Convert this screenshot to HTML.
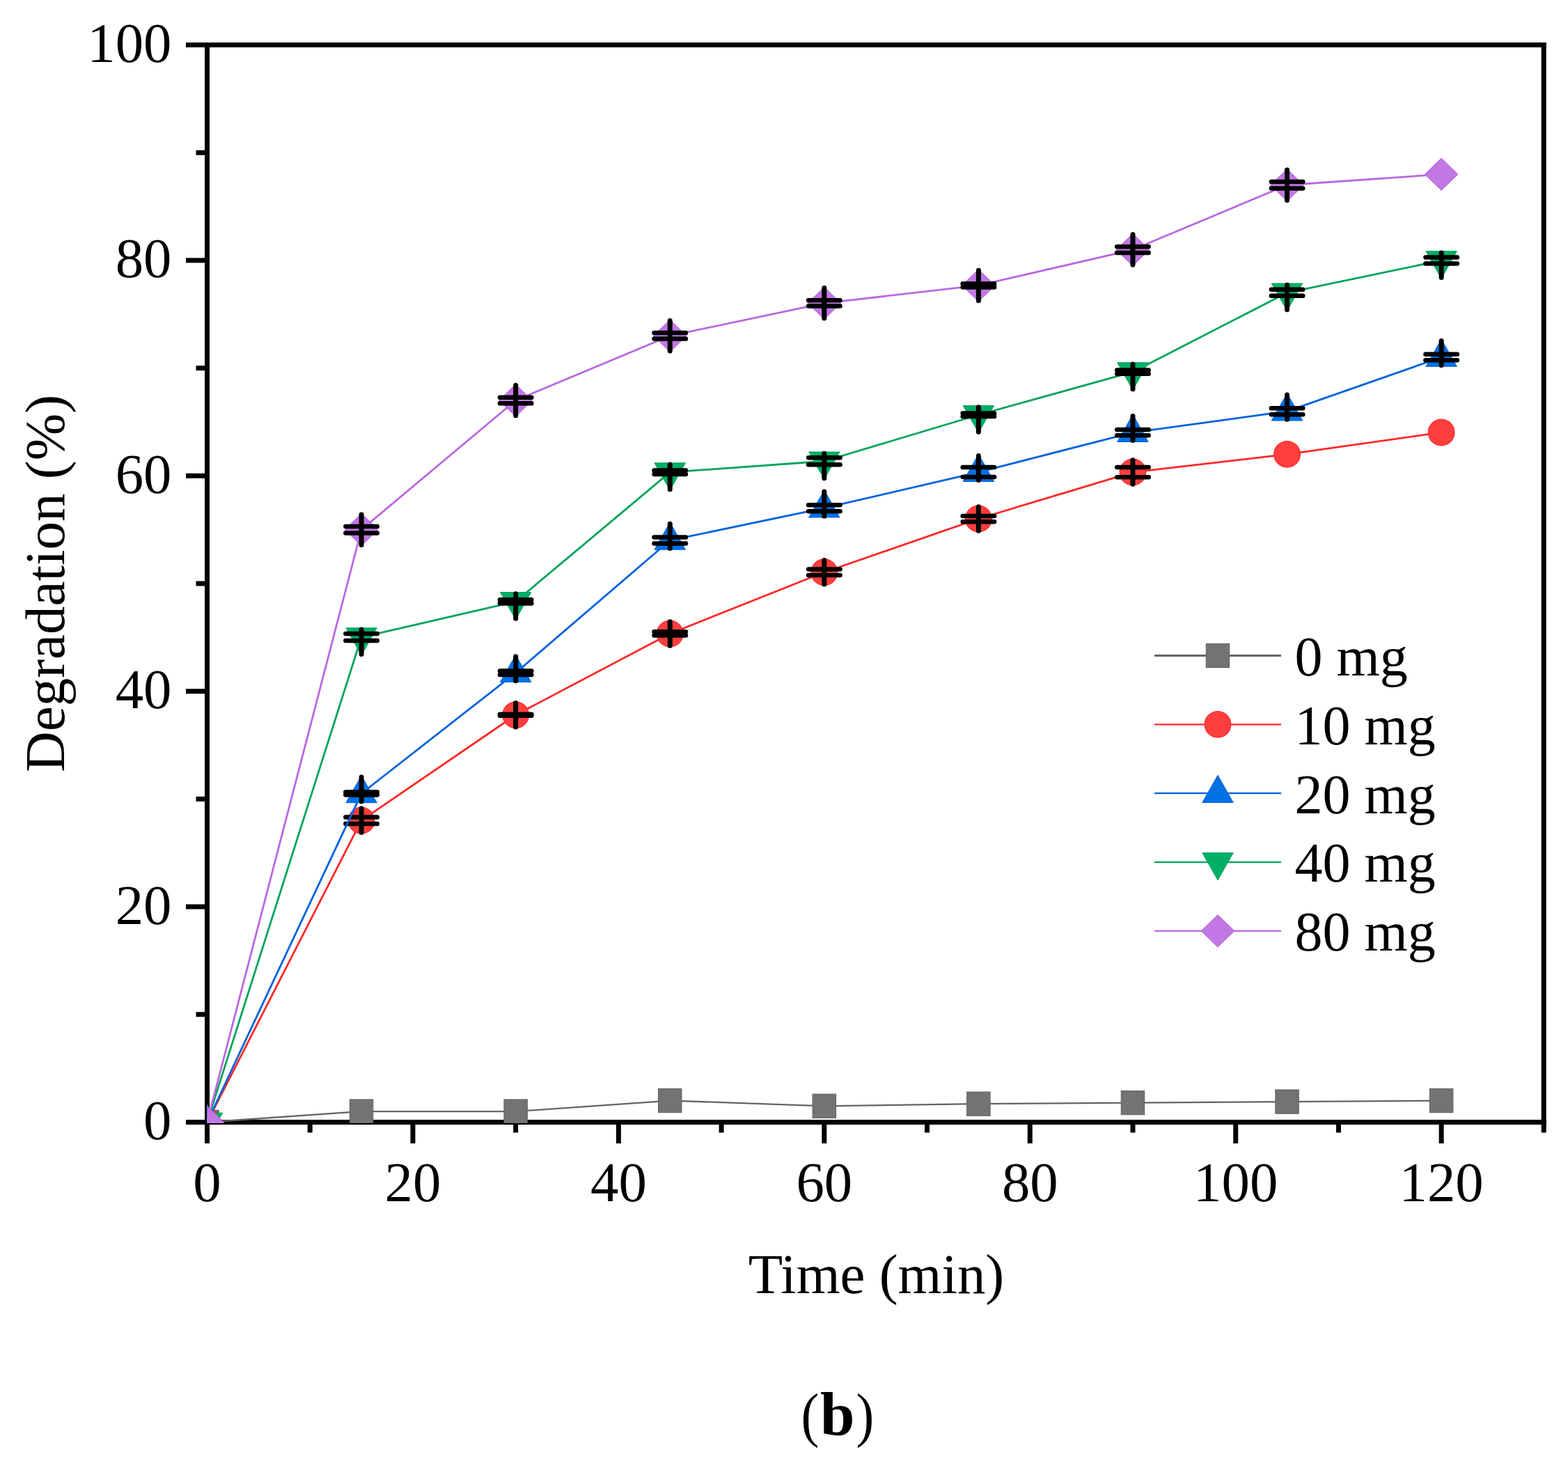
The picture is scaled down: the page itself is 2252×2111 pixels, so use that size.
<!DOCTYPE html><html><head><meta charset="utf-8"><title>Degradation vs Time</title>
<style>html,body{margin:0;padding:0;background:#fff;}svg{display:block;}text{font-family:"Liberation Serif","Times New Roman",serif;fill:#000;}</style></head><body>
<svg width="2252" height="2111" viewBox="0 0 2252 2111">
<rect width="2252" height="2111" fill="#fff"/>
<defs><clipPath id="pc"><rect x="297.5" y="60" width="1921" height="1553"/></clipPath></defs>
<g stroke="#000" stroke-width="7" fill="none" stroke-linecap="butt">
<line x1="267.0" y1="64.5" x2="2220.7" y2="64.5"/>
<line x1="267.0" y1="1611.5" x2="2220.7" y2="1611.5"/>
<line x1="297.5" y1="61.0" x2="297.5" y2="1642.0"/>
<line x1="2217.2" y1="61.0" x2="2217.2" y2="1626.5"/>
<line x1="281.5" y1="1456.80" x2="297.5" y2="1456.80"/>
<line x1="267.0" y1="1302.10" x2="297.5" y2="1302.10"/>
<line x1="281.5" y1="1147.40" x2="297.5" y2="1147.40"/>
<line x1="267.0" y1="992.70" x2="297.5" y2="992.70"/>
<line x1="281.5" y1="838.00" x2="297.5" y2="838.00"/>
<line x1="267.0" y1="683.30" x2="297.5" y2="683.30"/>
<line x1="281.5" y1="528.60" x2="297.5" y2="528.60"/>
<line x1="267.0" y1="373.90" x2="297.5" y2="373.90"/>
<line x1="281.5" y1="219.20" x2="297.5" y2="219.20"/>
<line x1="445.22" y1="1611.5" x2="445.22" y2="1626.5"/>
<line x1="592.94" y1="1611.5" x2="592.94" y2="1642.0"/>
<line x1="740.66" y1="1611.5" x2="740.66" y2="1626.5"/>
<line x1="888.38" y1="1611.5" x2="888.38" y2="1642.0"/>
<line x1="1036.10" y1="1611.5" x2="1036.10" y2="1626.5"/>
<line x1="1183.82" y1="1611.5" x2="1183.82" y2="1642.0"/>
<line x1="1331.54" y1="1611.5" x2="1331.54" y2="1626.5"/>
<line x1="1479.26" y1="1611.5" x2="1479.26" y2="1642.0"/>
<line x1="1626.98" y1="1611.5" x2="1626.98" y2="1626.5"/>
<line x1="1774.70" y1="1611.5" x2="1774.70" y2="1642.0"/>
<line x1="1922.42" y1="1611.5" x2="1922.42" y2="1626.5"/>
<line x1="2070.14" y1="1611.5" x2="2070.14" y2="1642.0"/>
</g>
<g font-size="80.8">
<text x="246.5" y="1635.9" text-anchor="end">0</text>
<text x="246.5" y="1326.5" text-anchor="end">20</text>
<text x="246.5" y="1017.1" text-anchor="end">40</text>
<text x="246.5" y="707.7" text-anchor="end">60</text>
<text x="246.5" y="398.3" text-anchor="end">80</text>
<text x="246.5" y="88.9" text-anchor="end">100</text>
<text x="297.5" y="1725.2" text-anchor="middle">0</text>
<text x="592.9" y="1725.2" text-anchor="middle">20</text>
<text x="888.4" y="1725.2" text-anchor="middle">40</text>
<text x="1183.8" y="1725.2" text-anchor="middle">60</text>
<text x="1479.3" y="1725.2" text-anchor="middle">80</text>
<text x="1774.7" y="1725.2" text-anchor="middle">100</text>
<text x="2070.1" y="1725.2" text-anchor="middle">120</text>
</g>
<text x="1074.7" y="1856.5" font-size="80.85">Time (min)</text>
<text transform="translate(91.5,1108.8) rotate(-90)" font-size="81">Degradation (%)</text>
<g clip-path="url(#pc)">
<polyline points="297.50,1611.50 519.08,1596.03 740.66,1596.03 962.24,1580.56 1183.82,1588.30 1405.40,1585.20 1626.98,1583.65 1848.56,1582.11 2070.14,1580.56" fill="none" stroke="#646464" stroke-width="2.3" stroke-linejoin="round"/>
<rect x="280.80" y="1594.40" width="33.4" height="34.2" fill="#737373" stroke="#646464" stroke-width="1.1"/>
<rect x="502.38" y="1578.93" width="33.4" height="34.2" fill="#737373" stroke="#646464" stroke-width="1.1"/>
<rect x="723.96" y="1578.93" width="33.4" height="34.2" fill="#737373" stroke="#646464" stroke-width="1.1"/>
<rect x="945.54" y="1563.46" width="33.4" height="34.2" fill="#737373" stroke="#646464" stroke-width="1.1"/>
<rect x="1167.12" y="1571.20" width="33.4" height="34.2" fill="#737373" stroke="#646464" stroke-width="1.1"/>
<rect x="1388.70" y="1568.10" width="33.4" height="34.2" fill="#737373" stroke="#646464" stroke-width="1.1"/>
<rect x="1610.28" y="1566.55" width="33.4" height="34.2" fill="#737373" stroke="#646464" stroke-width="1.1"/>
<rect x="1831.86" y="1565.01" width="33.4" height="34.2" fill="#737373" stroke="#646464" stroke-width="1.1"/>
<rect x="2053.44" y="1563.46" width="33.4" height="34.2" fill="#737373" stroke="#646464" stroke-width="1.1"/>
<polyline points="297.50,1611.50 519.08,1178.19 740.66,1026.73 962.24,909.94 1183.82,821.76 1405.40,745.03 1626.98,678.04 1848.56,652.36 2070.14,620.96" fill="none" stroke="#FF2828" stroke-width="2.8" stroke-linejoin="round"/>
<circle cx="297.50" cy="1611.50" r="18.9" fill="#FF3E3E" stroke="#FF2828" stroke-width="1.1"/>
<circle cx="519.08" cy="1178.19" r="18.9" fill="#FF3E3E" stroke="#FF2828" stroke-width="1.1"/>
<circle cx="740.66" cy="1026.73" r="18.9" fill="#FF3E3E" stroke="#FF2828" stroke-width="1.1"/>
<circle cx="962.24" cy="909.94" r="18.9" fill="#FF3E3E" stroke="#FF2828" stroke-width="1.1"/>
<circle cx="1183.82" cy="821.76" r="18.9" fill="#FF3E3E" stroke="#FF2828" stroke-width="1.1"/>
<circle cx="1405.40" cy="745.03" r="18.9" fill="#FF3E3E" stroke="#FF2828" stroke-width="1.1"/>
<circle cx="1626.98" cy="678.04" r="18.9" fill="#FF3E3E" stroke="#FF2828" stroke-width="1.1"/>
<circle cx="1848.56" cy="652.36" r="18.9" fill="#FF3E3E" stroke="#FF2828" stroke-width="1.1"/>
<circle cx="2070.14" cy="620.96" r="18.9" fill="#FF3E3E" stroke="#FF2828" stroke-width="1.1"/>
<g stroke="#000" fill="none"><line x1="519.08" y1="1160.99" x2="519.08" y2="1195.39" stroke-width="7" stroke-linecap="round"/><line x1="496.38" y1="1173.39" x2="541.78" y2="1173.39" stroke-width="6.5" stroke-linecap="round"/><line x1="496.38" y1="1182.99" x2="541.78" y2="1182.99" stroke-width="6.5" stroke-linecap="round"/></g>
<g stroke="#000" fill="none"><line x1="740.66" y1="1009.53" x2="740.66" y2="1043.93" stroke-width="7" stroke-linecap="round"/><line x1="717.96" y1="1025.83" x2="763.36" y2="1025.83" stroke-width="6.5" stroke-linecap="round"/><line x1="717.96" y1="1027.63" x2="763.36" y2="1027.63" stroke-width="6.5" stroke-linecap="round"/></g>
<g stroke="#000" fill="none"><line x1="962.24" y1="892.74" x2="962.24" y2="927.14" stroke-width="7" stroke-linecap="round"/><line x1="939.54" y1="907.29" x2="984.94" y2="907.29" stroke-width="6.5" stroke-linecap="round"/><line x1="939.54" y1="912.59" x2="984.94" y2="912.59" stroke-width="6.5" stroke-linecap="round"/></g>
<g stroke="#000" fill="none"><line x1="1183.82" y1="804.56" x2="1183.82" y2="838.96" stroke-width="7" stroke-linecap="round"/><line x1="1161.12" y1="817.51" x2="1206.52" y2="817.51" stroke-width="6.5" stroke-linecap="round"/><line x1="1161.12" y1="826.01" x2="1206.52" y2="826.01" stroke-width="6.5" stroke-linecap="round"/></g>
<g stroke="#000" fill="none"><line x1="1405.40" y1="727.83" x2="1405.40" y2="762.23" stroke-width="7" stroke-linecap="round"/><line x1="1382.70" y1="740.88" x2="1428.10" y2="740.88" stroke-width="6.5" stroke-linecap="round"/><line x1="1382.70" y1="749.18" x2="1428.10" y2="749.18" stroke-width="6.5" stroke-linecap="round"/></g>
<g stroke="#000" fill="none"><line x1="1626.98" y1="660.84" x2="1626.98" y2="695.24" stroke-width="7" stroke-linecap="round"/><line x1="1604.28" y1="670.89" x2="1649.68" y2="670.89" stroke-width="6.5" stroke-linecap="round"/><line x1="1604.28" y1="685.19" x2="1649.68" y2="685.19" stroke-width="6.5" stroke-linecap="round"/></g>
<polyline points="297.50,1611.50 519.08,1139.51 740.66,966.25 962.24,775.97 1183.82,729.71 1405.40,678.04 1626.98,621.11 1848.56,590.63 2070.14,512.98" fill="none" stroke="#0062E0" stroke-width="2.8" stroke-linejoin="round"/>
<polygon points="297.50,1585.90 319.60,1624.80 275.40,1624.80" fill="#0072E5" stroke="#0062E0" stroke-width="1.1" stroke-linejoin="round"/>
<polygon points="519.08,1113.91 541.18,1152.81 496.98,1152.81" fill="#0072E5" stroke="#0062E0" stroke-width="1.1" stroke-linejoin="round"/>
<polygon points="740.66,940.65 762.76,979.55 718.56,979.55" fill="#0072E5" stroke="#0062E0" stroke-width="1.1" stroke-linejoin="round"/>
<polygon points="962.24,750.37 984.34,789.27 940.14,789.27" fill="#0072E5" stroke="#0062E0" stroke-width="1.1" stroke-linejoin="round"/>
<polygon points="1183.82,704.11 1205.92,743.01 1161.72,743.01" fill="#0072E5" stroke="#0062E0" stroke-width="1.1" stroke-linejoin="round"/>
<polygon points="1405.40,652.44 1427.50,691.34 1383.30,691.34" fill="#0072E5" stroke="#0062E0" stroke-width="1.1" stroke-linejoin="round"/>
<polygon points="1626.98,595.51 1649.08,634.41 1604.88,634.41" fill="#0072E5" stroke="#0062E0" stroke-width="1.1" stroke-linejoin="round"/>
<polygon points="1848.56,565.03 1870.66,603.93 1826.46,603.93" fill="#0072E5" stroke="#0062E0" stroke-width="1.1" stroke-linejoin="round"/>
<polygon points="2070.14,487.38 2092.24,526.28 2048.04,526.28" fill="#0072E5" stroke="#0062E0" stroke-width="1.1" stroke-linejoin="round"/>
<g stroke="#000" fill="none"><line x1="519.08" y1="1115.91" x2="519.08" y2="1151.01" stroke-width="7" stroke-linecap="round"/><line x1="496.38" y1="1137.51" x2="541.78" y2="1137.51" stroke-width="6.5" stroke-linecap="round"/><line x1="496.38" y1="1141.51" x2="541.78" y2="1141.51" stroke-width="6.5" stroke-linecap="round"/></g>
<g stroke="#000" fill="none"><line x1="740.66" y1="942.65" x2="740.66" y2="977.75" stroke-width="7" stroke-linecap="round"/><line x1="717.96" y1="963.60" x2="763.36" y2="963.60" stroke-width="6.5" stroke-linecap="round"/><line x1="717.96" y1="968.90" x2="763.36" y2="968.90" stroke-width="6.5" stroke-linecap="round"/></g>
<g stroke="#000" fill="none"><line x1="962.24" y1="752.37" x2="962.24" y2="787.47" stroke-width="7" stroke-linecap="round"/><line x1="939.54" y1="771.47" x2="984.94" y2="771.47" stroke-width="6.5" stroke-linecap="round"/><line x1="939.54" y1="780.47" x2="984.94" y2="780.47" stroke-width="6.5" stroke-linecap="round"/></g>
<g stroke="#000" fill="none"><line x1="1183.82" y1="706.11" x2="1183.82" y2="741.21" stroke-width="7" stroke-linecap="round"/><line x1="1161.12" y1="725.26" x2="1206.52" y2="725.26" stroke-width="6.5" stroke-linecap="round"/><line x1="1161.12" y1="734.16" x2="1206.52" y2="734.16" stroke-width="6.5" stroke-linecap="round"/></g>
<g stroke="#000" fill="none"><line x1="1405.40" y1="654.44" x2="1405.40" y2="689.54" stroke-width="7" stroke-linecap="round"/><line x1="1382.70" y1="670.99" x2="1428.10" y2="670.99" stroke-width="6.5" stroke-linecap="round"/><line x1="1382.70" y1="685.09" x2="1428.10" y2="685.09" stroke-width="6.5" stroke-linecap="round"/></g>
<g stroke="#000" fill="none"><line x1="1626.98" y1="597.51" x2="1626.98" y2="632.61" stroke-width="7" stroke-linecap="round"/><line x1="1604.28" y1="616.96" x2="1649.68" y2="616.96" stroke-width="6.5" stroke-linecap="round"/><line x1="1604.28" y1="625.26" x2="1649.68" y2="625.26" stroke-width="6.5" stroke-linecap="round"/></g>
<g stroke="#000" fill="none"><line x1="1848.56" y1="567.03" x2="1848.56" y2="602.13" stroke-width="7" stroke-linecap="round"/><line x1="1825.86" y1="586.13" x2="1871.26" y2="586.13" stroke-width="6.5" stroke-linecap="round"/><line x1="1825.86" y1="595.13" x2="1871.26" y2="595.13" stroke-width="6.5" stroke-linecap="round"/></g>
<g stroke="#000" fill="none"><line x1="2070.14" y1="489.38" x2="2070.14" y2="524.48" stroke-width="7" stroke-linecap="round"/><line x1="2047.44" y1="508.63" x2="2092.84" y2="508.63" stroke-width="6.5" stroke-linecap="round"/><line x1="2047.44" y1="517.33" x2="2092.84" y2="517.33" stroke-width="6.5" stroke-linecap="round"/></g>
<polyline points="297.50,1611.50 519.08,915.04 740.66,863.83 962.24,678.19 1183.82,662.26 1405.40,595.74 1626.98,534.17 1848.56,420.31 2070.14,374.05" fill="none" stroke="#00A55A" stroke-width="2.8" stroke-linejoin="round"/>
<polygon points="297.50,1637.10 319.60,1598.20 275.40,1598.20" fill="#00AF66" stroke="#00A55A" stroke-width="1.1" stroke-linejoin="round"/>
<polygon points="519.08,940.64 541.18,901.74 496.98,901.74" fill="#00AF66" stroke="#00A55A" stroke-width="1.1" stroke-linejoin="round"/>
<polygon points="740.66,889.43 762.76,850.53 718.56,850.53" fill="#00AF66" stroke="#00A55A" stroke-width="1.1" stroke-linejoin="round"/>
<polygon points="962.24,703.79 984.34,664.89 940.14,664.89" fill="#00AF66" stroke="#00A55A" stroke-width="1.1" stroke-linejoin="round"/>
<polygon points="1183.82,687.86 1205.92,648.96 1161.72,648.96" fill="#00AF66" stroke="#00A55A" stroke-width="1.1" stroke-linejoin="round"/>
<polygon points="1405.40,621.34 1427.50,582.44 1383.30,582.44" fill="#00AF66" stroke="#00A55A" stroke-width="1.1" stroke-linejoin="round"/>
<polygon points="1626.98,559.77 1649.08,520.87 1604.88,520.87" fill="#00AF66" stroke="#00A55A" stroke-width="1.1" stroke-linejoin="round"/>
<polygon points="1848.56,445.91 1870.66,407.01 1826.46,407.01" fill="#00AF66" stroke="#00A55A" stroke-width="1.1" stroke-linejoin="round"/>
<polygon points="2070.14,399.65 2092.24,360.75 2048.04,360.75" fill="#00AF66" stroke="#00A55A" stroke-width="1.1" stroke-linejoin="round"/>
<g stroke="#000" fill="none"><line x1="519.08" y1="903.94" x2="519.08" y2="939.54" stroke-width="7" stroke-linecap="round"/><line x1="496.38" y1="910.09" x2="541.78" y2="910.09" stroke-width="6.5" stroke-linecap="round"/><line x1="496.38" y1="919.99" x2="541.78" y2="919.99" stroke-width="6.5" stroke-linecap="round"/></g>
<g stroke="#000" fill="none"><line x1="740.66" y1="852.73" x2="740.66" y2="888.33" stroke-width="7" stroke-linecap="round"/><line x1="717.96" y1="861.28" x2="763.36" y2="861.28" stroke-width="6.5" stroke-linecap="round"/><line x1="717.96" y1="866.38" x2="763.36" y2="866.38" stroke-width="6.5" stroke-linecap="round"/></g>
<g stroke="#000" fill="none"><line x1="962.24" y1="667.09" x2="962.24" y2="702.69" stroke-width="7" stroke-linecap="round"/><line x1="939.54" y1="675.39" x2="984.94" y2="675.39" stroke-width="6.5" stroke-linecap="round"/><line x1="939.54" y1="680.99" x2="984.94" y2="680.99" stroke-width="6.5" stroke-linecap="round"/></g>
<g stroke="#000" fill="none"><line x1="1183.82" y1="651.16" x2="1183.82" y2="686.76" stroke-width="7" stroke-linecap="round"/><line x1="1161.12" y1="657.31" x2="1206.52" y2="657.31" stroke-width="6.5" stroke-linecap="round"/><line x1="1161.12" y1="667.21" x2="1206.52" y2="667.21" stroke-width="6.5" stroke-linecap="round"/></g>
<g stroke="#000" fill="none"><line x1="1405.40" y1="584.64" x2="1405.40" y2="620.24" stroke-width="7" stroke-linecap="round"/><line x1="1382.70" y1="593.49" x2="1428.10" y2="593.49" stroke-width="6.5" stroke-linecap="round"/><line x1="1382.70" y1="597.99" x2="1428.10" y2="597.99" stroke-width="6.5" stroke-linecap="round"/></g>
<g stroke="#000" fill="none"><line x1="1626.98" y1="523.07" x2="1626.98" y2="558.67" stroke-width="7" stroke-linecap="round"/><line x1="1604.28" y1="531.62" x2="1649.68" y2="531.62" stroke-width="6.5" stroke-linecap="round"/><line x1="1604.28" y1="536.72" x2="1649.68" y2="536.72" stroke-width="6.5" stroke-linecap="round"/></g>
<g stroke="#000" fill="none"><line x1="1848.56" y1="409.21" x2="1848.56" y2="444.81" stroke-width="7" stroke-linecap="round"/><line x1="1825.86" y1="415.86" x2="1871.26" y2="415.86" stroke-width="6.5" stroke-linecap="round"/><line x1="1825.86" y1="424.76" x2="1871.26" y2="424.76" stroke-width="6.5" stroke-linecap="round"/></g>
<g stroke="#000" fill="none"><line x1="2070.14" y1="362.95" x2="2070.14" y2="398.55" stroke-width="7" stroke-linecap="round"/><line x1="2047.44" y1="369.50" x2="2092.84" y2="369.50" stroke-width="6.5" stroke-linecap="round"/><line x1="2047.44" y1="378.60" x2="2092.84" y2="378.60" stroke-width="6.5" stroke-linecap="round"/></g>
<polyline points="297.50,1611.50 519.08,760.65 740.66,575.01 962.24,482.19 1183.82,435.32 1405.40,409.95 1626.98,358.58 1848.56,265.76 2070.14,250.29" fill="none" stroke="#BA68E0" stroke-width="2.8" stroke-linejoin="round"/>
<polygon points="297.50,1588.60 321.20,1611.50 297.50,1634.40 273.80,1611.50" fill="#C278E4" stroke="#BA68E0" stroke-width="1.1" stroke-linejoin="round"/>
<polygon points="519.08,737.75 542.78,760.65 519.08,783.55 495.38,760.65" fill="#C278E4" stroke="#BA68E0" stroke-width="1.1" stroke-linejoin="round"/>
<polygon points="740.66,552.11 764.36,575.01 740.66,597.91 716.96,575.01" fill="#C278E4" stroke="#BA68E0" stroke-width="1.1" stroke-linejoin="round"/>
<polygon points="962.24,459.29 985.94,482.19 962.24,505.09 938.54,482.19" fill="#C278E4" stroke="#BA68E0" stroke-width="1.1" stroke-linejoin="round"/>
<polygon points="1183.82,412.42 1207.52,435.32 1183.82,458.22 1160.12,435.32" fill="#C278E4" stroke="#BA68E0" stroke-width="1.1" stroke-linejoin="round"/>
<polygon points="1405.40,387.05 1429.10,409.95 1405.40,432.85 1381.70,409.95" fill="#C278E4" stroke="#BA68E0" stroke-width="1.1" stroke-linejoin="round"/>
<polygon points="1626.98,335.68 1650.68,358.58 1626.98,381.48 1603.28,358.58" fill="#C278E4" stroke="#BA68E0" stroke-width="1.1" stroke-linejoin="round"/>
<polygon points="1848.56,242.86 1872.26,265.76 1848.56,288.66 1824.86,265.76" fill="#C278E4" stroke="#BA68E0" stroke-width="1.1" stroke-linejoin="round"/>
<polygon points="2070.14,227.39 2093.84,250.29 2070.14,273.19 2046.44,250.29" fill="#C278E4" stroke="#BA68E0" stroke-width="1.1" stroke-linejoin="round"/>
<g stroke="#000" fill="none"><line x1="519.08" y1="738.90" x2="519.08" y2="782.40" stroke-width="7" stroke-linecap="round"/><line x1="496.38" y1="755.90" x2="541.78" y2="755.90" stroke-width="6.5" stroke-linecap="round"/><line x1="496.38" y1="765.40" x2="541.78" y2="765.40" stroke-width="6.5" stroke-linecap="round"/></g>
<g stroke="#000" fill="none"><line x1="740.66" y1="553.26" x2="740.66" y2="596.76" stroke-width="7" stroke-linecap="round"/><line x1="717.96" y1="570.66" x2="763.36" y2="570.66" stroke-width="6.5" stroke-linecap="round"/><line x1="717.96" y1="579.36" x2="763.36" y2="579.36" stroke-width="6.5" stroke-linecap="round"/></g>
<g stroke="#000" fill="none"><line x1="962.24" y1="460.44" x2="962.24" y2="503.94" stroke-width="7" stroke-linecap="round"/><line x1="939.54" y1="477.99" x2="984.94" y2="477.99" stroke-width="6.5" stroke-linecap="round"/><line x1="939.54" y1="486.39" x2="984.94" y2="486.39" stroke-width="6.5" stroke-linecap="round"/></g>
<g stroke="#000" fill="none"><line x1="1183.82" y1="413.57" x2="1183.82" y2="457.07" stroke-width="7" stroke-linecap="round"/><line x1="1161.12" y1="431.17" x2="1206.52" y2="431.17" stroke-width="6.5" stroke-linecap="round"/><line x1="1161.12" y1="439.47" x2="1206.52" y2="439.47" stroke-width="6.5" stroke-linecap="round"/></g>
<g stroke="#000" fill="none"><line x1="1405.40" y1="388.20" x2="1405.40" y2="431.70" stroke-width="7" stroke-linecap="round"/><line x1="1382.70" y1="407.50" x2="1428.10" y2="407.50" stroke-width="6.5" stroke-linecap="round"/><line x1="1382.70" y1="412.40" x2="1428.10" y2="412.40" stroke-width="6.5" stroke-linecap="round"/></g>
<g stroke="#000" fill="none"><line x1="1626.98" y1="336.83" x2="1626.98" y2="380.33" stroke-width="7" stroke-linecap="round"/><line x1="1604.28" y1="354.13" x2="1649.68" y2="354.13" stroke-width="6.5" stroke-linecap="round"/><line x1="1604.28" y1="363.03" x2="1649.68" y2="363.03" stroke-width="6.5" stroke-linecap="round"/></g>
<g stroke="#000" fill="none"><line x1="1848.56" y1="244.01" x2="1848.56" y2="287.51" stroke-width="7" stroke-linecap="round"/><line x1="1825.86" y1="261.06" x2="1871.26" y2="261.06" stroke-width="6.5" stroke-linecap="round"/><line x1="1825.86" y1="270.46" x2="1871.26" y2="270.46" stroke-width="6.5" stroke-linecap="round"/></g>
</g>
<line x1="1658" y1="941.50" x2="1840" y2="941.50" stroke="#646464" stroke-width="2.8"/>
<rect x="1732.30" y="924.40" width="33.4" height="34.2" fill="#737373" stroke="#646464" stroke-width="1.1"/>
<text x="1859.5" y="969.8" font-size="80">0 mg</text>
<line x1="1658" y1="1040.35" x2="1840" y2="1040.35" stroke="#FF2828" stroke-width="2.2"/>
<circle cx="1749.00" cy="1040.35" r="18.9" fill="#FF3E3E" stroke="#FF2828" stroke-width="1.1"/>
<text x="1859.5" y="1068.6" font-size="80">10 mg</text>
<line x1="1658" y1="1139.20" x2="1840" y2="1139.20" stroke="#0062E0" stroke-width="2.2"/>
<polygon points="1749.00,1113.60 1771.10,1152.50 1726.90,1152.50" fill="#0072E5" stroke="#0062E0" stroke-width="1.1" stroke-linejoin="round"/>
<text x="1859.5" y="1167.5" font-size="80">20 mg</text>
<line x1="1658" y1="1238.05" x2="1840" y2="1238.05" stroke="#00A55A" stroke-width="2.2"/>
<polygon points="1749.00,1263.65 1771.10,1224.75 1726.90,1224.75" fill="#00AF66" stroke="#00A55A" stroke-width="1.1" stroke-linejoin="round"/>
<text x="1859.5" y="1266.3" font-size="80">40 mg</text>
<line x1="1658" y1="1336.90" x2="1840" y2="1336.90" stroke="#BA68E0" stroke-width="2.2"/>
<polygon points="1749.00,1314.00 1772.70,1336.90 1749.00,1359.80 1725.30,1336.90" fill="#C278E4" stroke="#BA68E0" stroke-width="1.1" stroke-linejoin="round"/>
<text x="1859.5" y="1365.2" font-size="80">80 mg</text>
<text transform="translate(1150.5,2061) scale(0.9,1)" font-size="86">(</text>
<text x="1177.9" y="2061" font-size="89" font-weight="700">b</text>
<text transform="translate(1229.6,2061) scale(0.9,1)" font-size="86">)</text>
</svg></body></html>
